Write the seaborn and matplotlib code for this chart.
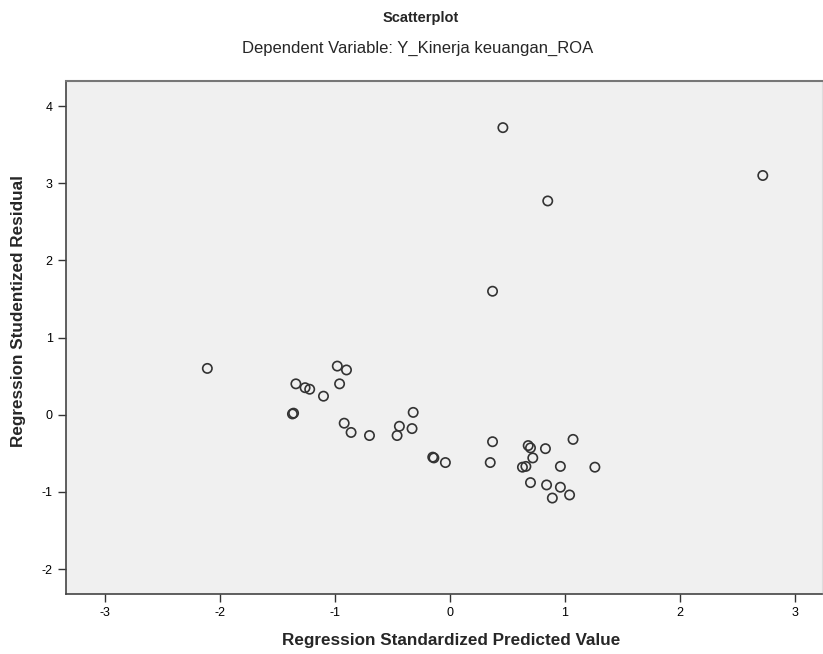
import numpy as np
import pandas as pd
import seaborn as sns
import matplotlib.pyplot as plt

# Standardized predicted values and studentized residuals
pred_values = [-2.11, -1.34, -1.26, -1.22, -1.10, -0.98, -0.90, -0.96,
               -1.37, -1.36, -0.92, -0.86, -0.70, -0.32, -0.44, -0.33,
               -0.46, -0.15, -0.14, -0.04, 0.37, 0.35, 0.68, 0.70,
               0.83, 1.07, 0.72, 0.63, 0.66, 0.96, 1.26, 0.70,
               0.84, 0.96, 0.89, 1.04, 0.46, 0.85, 0.37, 2.72]
stud_residuals = [0.60, 0.40, 0.35, 0.33, 0.24, 0.63, 0.58, 0.40,
                  0.01, 0.02, -0.11, -0.23, -0.27, 0.03, -0.15, -0.18,
                  -0.27, -0.55, -0.56, -0.62, -0.35, -0.62, -0.40, -0.43,
                  -0.44, -0.32, -0.56, -0.68, -0.67, -0.67, -0.68, -0.88,
                  -0.91, -0.94, -1.08, -1.04, 3.72, 2.77, 1.60, 3.10]

x_ticks = [-3, -2, -1, 0, 1, 2, 3]
y_ticks = [-2, -1, 0, 1, 2, 3, 4]

df = pd.DataFrame({'pred': pred_values, 'resid': stud_residuals})

sns.set_style('white')
plt.rcParams['font.family'] = ['Liberation Sans Narrow', 'Liberation Sans', 'DejaVu Sans']
plt.rcParams['axes.unicode_minus'] = False

fig = plt.figure(figsize=(8.23, 6.54), dpi=100)
ax = fig.add_axes([0.0802, 0.0925, 0.9186, 0.7836])
ax.set_facecolor('#f0f0f0')

sns.scatterplot(data=df, x='pred', y='resid', ax=ax,
                facecolor='none', edgecolor='#333333', linewidth=1.2,
                s=45, legend=False)

ax.set_xlim(-3.339, 3.235)
ax.set_ylim(-2.317, 4.324)
ax.set_xticks(x_ticks)
ax.set_yticks(y_ticks)
ax.tick_params(direction='out', length=6, width=1, colors='#333333',
               labelsize=9, labelcolor='black', left=True, bottom=True)
ax.set_xlabel('')
ax.set_ylabel('')

for side in ['left', 'bottom']:
    ax.spines[side].set_color('#444444')
    ax.spines[side].set_linewidth(1.2)
ax.spines['top'].set_color('#777777')
ax.spines['top'].set_linewidth(1.5)
ax.spines['right'].set_color('#dddddd')

fig.text(0.511, 0.972, 'Scatterplot', ha='center', va='center',
         fontsize=10.5, fontweight='bold')
fig.text(0.508, 0.926, 'Dependent Variable: Y_Kinerja keuangan_ROA',
         ha='center', va='center', fontsize=12)
fig.text(0.548, 0.021, 'Regression Standardized Predicted Value',
         ha='center', va='center', fontsize=12.3, fontweight='bold')
fig.text(0.022, 0.525, 'Regression Studentized Residual', ha='center',
         va='center', rotation=90, fontsize=12.3, fontweight='bold')

fig.savefig('out.png', dpi=100)
